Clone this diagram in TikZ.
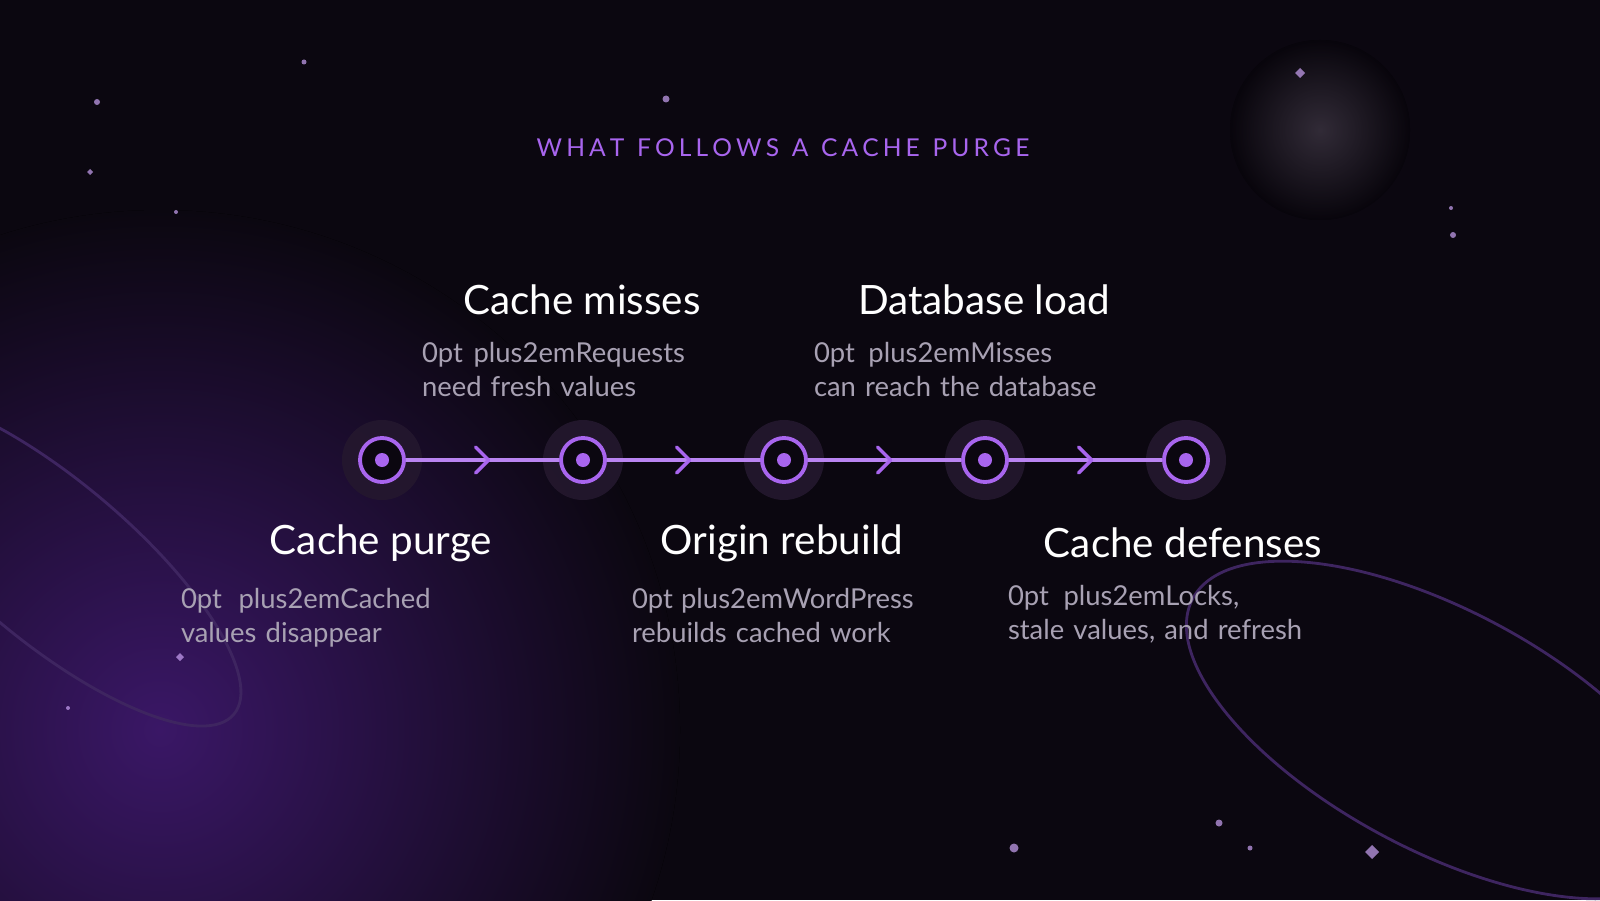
\documentclass[tikz,border=0pt]{standalone}
\usepackage{fontspec}
\setmainfont{Lato}
\usetikzlibrary{arrows.meta,positioning,calc}
\definecolor{bgdark}{HTML}{0B0710}
\definecolor{glow}{HTML}{3A1766}
\definecolor{accent}{HTML}{A865EE}
\definecolor{halo}{HTML}{24182E}
\definecolor{subtext}{HTML}{A8A1B3}
\definecolor{orbit}{HTML}{3E2560}
\tikzset{
  stage/.style={circle,draw=accent,line width=1.1pt,fill=bgdark,minimum size=4.4mm,inner sep=0pt},
  head/.style={text=white,font=\fontsize{11.5}{13}\selectfont},
  desc/.style={text=subtext,font=\fontsize{7.8}{9.7}\selectfont\hyphenpenalty=10000,align=center,text width=3.3cm},
  link/.style={accent!80,line width=0.9pt},
  chev/.style={accent,line width=1pt,line cap=round,line join=round},
  speck/.style={fill=accent!60,opacity=0.7}
}
\begin{document}
\begin{tikzpicture}[x=1cm,y=1cm]
  \useasboundingbox (0,0) rectangle (16,9);
  \clip (0,0) rectangle (16,9);
  % background
  \fill[bgdark] (0,0) rectangle (16,9);
  \fill[inner color=glow,outer color=bgdark] (1.6,1.7) circle (5.2);
  \fill[inner color=halo!80,outer color=bgdark,opacity=0.6] (13.2,7.7) circle (0.9);
  % orbits
  \draw[orbit,line width=0.8pt,rotate around={-40:(0.5,3.4)}] (0.5,3.4) ellipse (2.4 and 0.8);
  \draw[orbit,line width=0.8pt,rotate around={-28:(14.4,1.7)}] (14.4,1.7) ellipse (2.8 and 1.2);
  % specks
  \foreach \px/\py/\r in {3.04/8.38/0.025,0.97/7.98/0.03,1.76/6.88/0.02,6.66/8.01/0.035,
      14.51/6.92/0.02,14.53/6.65/0.03,0.68/1.92/0.02,12.19/0.77/0.035,10.14/0.52/0.045,12.5/0.52/0.025}
    \fill[speck] (\px,\py) circle (\r);
  \foreach \px/\py/\r in {13.0/8.27/0.05,0.9/7.28/0.03,1.8/2.43/0.04,13.72/0.48/0.07}
    \fill[speck] (\px,\py-\r) -- (\px+\r,\py) -- (\px,\py+\r) -- (\px-\r,\py) -- cycle;
  % title
  \node[text=accent,font=\fontsize{7}{8}\selectfont] (title) at (7.83,7.52)
    {W\,H\,A\,T\ \ F\,O\,L\,L\,O\,W\,S\ \ A\ \ C\,A\,C\,H\,E\ \ P\,U\,R\,G\,E};
  % timeline
  \foreach \xx in {3.82,5.83,7.84,9.85,11.86}
    \fill[halo,opacity=0.9] (\xx,4.4) circle (0.4);
  \foreach \i/\xx in {1/3.82,2/5.83,3/7.84,4/9.85,5/11.86}
    \node[stage] (s\i) at (\xx,4.4) {};
  \foreach \a/\b in {1/2,2/3,3/4,4/5}{
    \draw[link] (s\a) -- (s\b);
    \draw[chev] ($(s\a)!0.5!(s\b)+(-0.07,0.13)$) -- ($(s\a)!0.5!(s\b)+(0.06,0)$) -- ($(s\a)!0.5!(s\b)+(-0.07,-0.13)$);
  }
  \foreach \i in {1,...,5}
    \fill[accent] (s\i) circle (0.07);
  % labels above
  \node[head] (h2) at (5.82,6.0) {Cache misses};
  \node[desc,text width=3.2cm,below=0.02 of h2] {Requests need fresh values};
  \node[head] (h4) at (9.84,6.0) {Database load};
  \node[desc,text width=3.4cm,below=0.02 of h4] {Misses can reach the database};
  % labels below
  \node[head] (h1) at (3.81,3.57) {Cache purge};
  \node[desc,text width=4cm,below=0.02 of h1] {Cached values disappear};
  \node[head] (h3) at (7.82,3.57) {Origin rebuild};
  \node[desc,text width=3cm,below=0.02 of h3] {WordPress rebuilds cached work};
  \node[head] (h5) at (11.83,3.57) {Cache defenses};
  \node[desc,text width=3.5cm,below=0.02 of h5] {Locks, stale values, and refresh};
\end{tikzpicture}
\end{document}
